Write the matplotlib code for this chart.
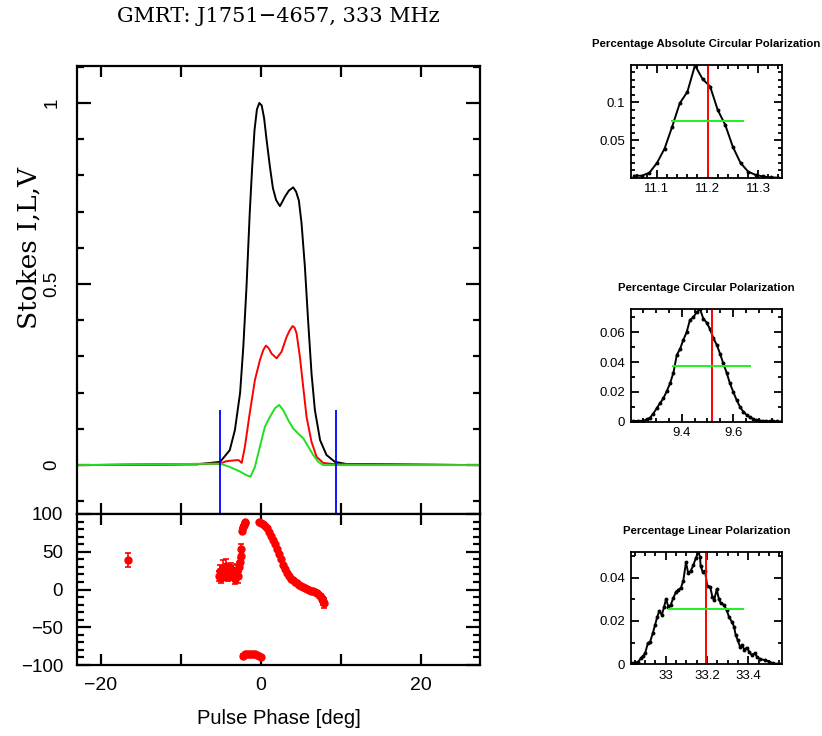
import numpy as np
import matplotlib
matplotlib.use("Agg")
import matplotlib.pyplot as plt
from matplotlib.ticker import MultipleLocator, FixedLocator, FixedFormatter, FuncFormatter

# -----------------------------
# profile data (Stokes I, L, V)
# -----------------------------
I_phase = [-23, -8, -5.1, -3.9, -3.25, -2.6, -2.2, -1.8, -1.4, -1.1, -0.8, -0.5, -0.2, 0.1, 0.4, 0.71,
           1.125, 1.5, 1.9, 2.375, 2.7, 3.0, 3.5, 4.04, 4.4, 4.75, 5.08, 5.5, 5.9, 6.33, 6.75, 7.4, 8.2,
           9.25, 10.7, 27.4]
I_val = [0, 0.002, 0.009, 0.041, 0.097, 0.200, 0.327, 0.493, 0.695, 0.82, 0.925, 0.982, 1.0, 0.993, 0.958, 0.898,
         0.824, 0.765, 0.732, 0.715, 0.728, 0.741, 0.758, 0.767, 0.755, 0.73, 0.668, 0.548, 0.40, 0.253, 0.152,
         0.069, 0.028, 0.009, 0.003, 0]

L_phase = [-23, -5.1, -4.3, -2.8, -2.4, -2.0, -1.4, -0.75, -0.125, 0.3, 0.625, 1.0, 1.33, 1.96, 2.58, 3.21,
           3.6, 3.96, 4.2, 4.46, 4.875, 5.29, 5.71, 6.33, 6.96, 7.8, 9.0, 27.4]
L_val = [0, 0.004, 0.011, 0.014, 0.006, 0.051, 0.143, 0.235, 0.29, 0.318, 0.330, 0.322, 0.308, 0.295, 0.313, 0.354,
         0.372, 0.384, 0.380, 0.364, 0.299, 0.216, 0.133, 0.064, 0.023, 0.006, 0.003, 0]

V_phase = [-23, -5.1, -3.9, -2.6, -1.8, -1.3, -0.75, -0.125, 0.5, 1.125, 1.75, 2.29, 2.79, 3.42,
           4.04, 4.67, 5.29, 5.92, 6.54, 7.17, 7.8, 27.4]
V_val = [0, 0.004, -0.005, -0.018, -0.028, -0.032, -0.005, 0.051, 0.106, 0.133, 0.157, 0.166, 0.152, 0.124,
         0.101, 0.087, 0.074, 0.051, 0.028, 0.009, 0, 0]

# on-pulse window markers
win_edges = [-5.1, 9.35]

# -----------------------------
# polarization angle data
# -----------------------------
pa_x = [-16.6,
        -5.3, -5.15, -5.0, -4.85, -4.7, -4.55, -4.4, -4.25, -4.1, -3.95, -3.8, -3.65, -3.5, -3.35, -3.2, -3.05, -2.9,
        -2.75, -2.65, -2.55, -2.48,
        -2.35, -2.25, -2.15, -2.05, -1.95,
        -2.2, -1.95, -1.7, -1.45, -1.2, -0.95, -0.7, -0.45, -0.2, 0.0,
        -0.2, 0.05, 0.3, 0.55, 0.8, 1.05, 1.3, 1.55, 1.8, 2.05, 2.3, 2.55, 2.8, 3.05, 3.3, 3.55, 3.8, 4.05,
        4.3, 4.55, 4.8, 5.05, 5.3, 5.55, 5.8, 6.05, 6.3, 6.55, 6.8, 7.05, 7.3, 7.5, 7.65, 7.8, 7.9]
pa_y = [38.7,
        18, 24, 15, 22, 28, 20, 31, 25, 17, 23, 27, 19, 24, 21, 14, 26, 18,
        30, 36, 45, 53,
        78, 83, 86, 88, 89,
        -88, -86, -85, -85, -85, -86, -86, -87, -88, -89,
        89.5, 88.5, 86.5, 84, 81, 76.5, 71.5, 66, 60, 53, 46.5, 40, 33, 27, 22, 18, 14.5, 12,
        10, 8, 6, 4.5, 3, 1.5, 0.5, -0.5, -1.5, -2.2, -3, -4.5, -7, -9.5, -12, -15, -18]
pa_err = [9,
          7, 8, 6, 9, 11, 7, 10, 8, 6, 9, 8, 7, 9, 6, 7, 8, 10,
          7, 6, 6, 7,
          3, 3, 2, 2, 2,
          2, 2, 1, 1, 1, 1, 1, 1, 1, 1,
          1, 1, 1, 1, 1, 1, 1, 1, 1, 1, 1, 1, 1, 1, 1, 1, 1, 1,
          1, 1, 1, 1, 1, 1, 1, 1, 1, 1, 1, 2, 2, 3, 4, 5, 7]

# -----------------------------
# distributions (right panels)
# -----------------------------
ac_x = [11.055, 11.07, 11.085, 11.10, 11.115, 11.13, 11.145, 11.16, 11.175, 11.19,
        11.205, 11.22, 11.235, 11.25, 11.265, 11.28, 11.295, 11.31, 11.325, 11.34]
ac_y = [0.003, 0.003, 0.007, 0.020, 0.039, 0.068, 0.099, 0.114, 0.149, 0.131,
        0.121, 0.090, 0.070, 0.041, 0.020, 0.0085, 0.004, 0.002, 0.0008, 0.0005]
ac_mark = 11.2
ac_fwhm = [11.128, 11.272, 0.0748]

cp_x = [9.212, 9.232, 9.251, 9.264, 9.277, 9.290, 9.303, 9.316, 9.329, 9.342, 9.355, 9.368, 9.381,
        9.394, 9.406, 9.419, 9.432, 9.445, 9.458, 9.471, 9.484, 9.497, 9.510, 9.523, 9.536, 9.549,
        9.561, 9.574, 9.587, 9.600, 9.613, 9.626, 9.639, 9.652, 9.665, 9.678, 9.690, 9.703, 9.716,
        9.729, 9.742, 9.755, 9.768, 9.781]
cp_y = [0.0005, 0.0005, 0.0007, 0.0015, 0.0027, 0.0055, 0.0090, 0.0125, 0.0157, 0.0205, 0.0258, 0.0330, 0.0448,
        0.0490, 0.0548, 0.0600, 0.0683, 0.0700, 0.0735, 0.0756, 0.0690, 0.0665, 0.0620, 0.0560, 0.0515, 0.0455,
        0.0392, 0.0330, 0.0258, 0.0200, 0.0146, 0.0100, 0.0067, 0.0045, 0.0029, 0.0018, 0.0011, 0.0007, 0.0005,
        0.0004, 0.0003, 0.0002, 0.0002, 0.0001]
cp_mark = 9.516
cp_fwhm = [9.361, 9.669, 0.0376]

lp_x = [32.835, 32.851, 32.867, 32.879, 32.892, 32.900, 32.913, 32.924, 32.937, 32.948, 32.959, 32.969,
        32.981, 32.992, 33.001, 33.013, 33.024, 33.037, 33.050, 33.061, 33.074, 33.085, 33.098, 33.109,
        33.121, 33.134, 33.145, 33.158, 33.166, 33.169, 33.179, 33.190, 33.201, 33.215, 33.226, 33.235,
        33.247, 33.258, 33.266, 33.282, 33.295, 33.307, 33.320, 33.331, 33.339, 33.349, 33.360, 33.371,
        33.381, 33.392, 33.405, 33.416, 33.432, 33.444, 33.457, 33.481, 33.502, 33.518, 33.538, 33.554]
lp_y = [0.0005, 0.0007, 0.0012, 0.0028, 0.0040, 0.0051, 0.0097, 0.0104, 0.0143, 0.0181, 0.0220, 0.0246,
        0.0228, 0.0266, 0.0300, 0.0266, 0.0274, 0.0307, 0.0335, 0.0343, 0.0354, 0.0386, 0.0471, 0.0420,
        0.0431, 0.0458, 0.0489, 0.0517, 0.0497, 0.0454, 0.0427, 0.0431, 0.0363, 0.0358, 0.0312, 0.0297,
        0.0346, 0.0300, 0.0282, 0.0274, 0.0251, 0.0217, 0.0197, 0.0174, 0.0135, 0.0112, 0.0081, 0.0089,
        0.0066, 0.0077, 0.0058, 0.0043, 0.0051, 0.0032, 0.0023, 0.0020, 0.0012, 0.0005, 0.0002, 0.0]
lp_mark = 33.196
lp_fwhm = [33.013, 33.381, 0.0257]

# -----------------------------
# figure
# -----------------------------
W, H = 822, 736
fig = plt.figure(figsize=(W / 100, H / 100), dpi=100)
sans = "Liberation Sans"
serif = "DejaVu Serif"
short = FuncFormatter(lambda v, p: ("%g" % round(v, 6)).replace("-", "\u2212"))


def box(l, t, r, b):
    return [l / W, 1 - b / H, (r - l) / W, (b - t) / H]


def frame(ax, lw=1.6):
    for s in ax.spines.values():
        s.set_linewidth(lw)
    ax.tick_params(which="both", direction="in", top=True, right=True, width=lw)


ax1 = fig.add_axes(box(77, 66, 480, 514))
ax2 = fig.add_axes(box(77, 514, 480, 665), sharex=ax1)

ax1.plot(I_phase, I_val, color="black", lw=1.4)
ax1.plot(L_phase, L_val, color="red", lw=1.4)
ax1.plot(V_phase, V_val, color="#22dd22", lw=1.4)
ax1.vlines(win_edges, -0.135, 0.152, color="blue", lw=1.3)
ax1.set_xlim(-23, 27.4)
ax1.set_ylim(-0.135, 1.102)
frame(ax1)
ax1.yaxis.set_major_locator(FixedLocator([0, 0.5, 1]))
ax1.yaxis.set_major_formatter(FixedFormatter(["0", "0.5", "1"]))
ax1.yaxis.set_minor_locator(MultipleLocator(0.1))
ax1.xaxis.set_major_locator(MultipleLocator(10))
ax1.tick_params(axis="y", which="major", length=10, pad=12, labelsize=13.5)
ax1.tick_params(axis="y", which="minor", length=5)
ax1.tick_params(axis="x", which="major", length=8, labelbottom=False)
for t in ax1.get_yticklabels():
    t.set_rotation(90)
    t.set_va("center")
    t.set_family(sans)

ax2.errorbar(pa_x, pa_y, yerr=pa_err, fmt="o", color="red", ms=5, capsize=2.5, elinewidth=1.2, capthick=1.2)
ax2.set_ylim(-100, 100)
frame(ax2)
ax2.yaxis.set_major_locator(MultipleLocator(50))
ax2.yaxis.set_minor_locator(MultipleLocator(10))
ax2.yaxis.set_major_formatter(short)
ax2.xaxis.set_major_locator(FixedLocator([-20, -10, 0, 10, 20]))
ax2.xaxis.set_major_formatter(FixedFormatter(["\u221220", "", "0", "", "20"]))
ax2.tick_params(axis="y", which="major", length=10, pad=10, labelsize=13.5)
ax2.tick_params(axis="y", which="minor", length=5)
ax2.tick_params(axis="x", which="major", length=8, pad=9, labelsize=14, labelbottom=True)
for t in ax2.get_yticklabels() + ax2.get_xticklabels():
    t.set_family(sans)

fig.text(278.5 / W, 1 - 16 / H, "GMRT: J1751\u22124657, 333 MHz", family=serif, fontsize=15,
         ha="center", va="center")
fig.text(29 / W, 1 - 248 / H, "Stokes I,L,V", family=serif, fontsize=19, rotation=90,
         ha="center", va="center")
fig.text(278.5 / W, 1 - 718 / H, "Pulse Phase [deg]", family=sans, fontsize=14.5,
         ha="center", va="center")


# right-hand distribution panels
def dist_panel(rect, x, y, mark, fwhm, xlim, ylim, xt, xminor, ymajor, yminor, title):
    ax = fig.add_axes(rect)
    ax.plot(x, y, color="black", lw=1.4, marker="o", ms=1.8)
    ax.axvline(mark, color="red", lw=1.4)
    ax.hlines(fwhm[2], fwhm[0], fwhm[1], color="#22ee22", lw=1.4)
    ax.set_xlim(*xlim)
    ax.set_ylim(*ylim)
    frame(ax, 1.3)
    ax.xaxis.set_major_locator(FixedLocator(xt))
    ax.xaxis.set_minor_locator(MultipleLocator(xminor))
    ax.yaxis.set_major_locator(MultipleLocator(ymajor))
    ax.yaxis.set_minor_locator(MultipleLocator(yminor))
    ax.xaxis.set_major_formatter(short)
    ax.yaxis.set_major_formatter(short)
    ax.tick_params(which="major", length=6, labelsize=9.5, pad=4)
    ax.tick_params(which="minor", length=3)
    for t in ax.get_xticklabels() + ax.get_yticklabels():
        t.set_family(sans)
    ax.set_title(title, family=sans, fontsize=8.2, fontweight="bold", pad=13)
    return ax


dist_panel(box(630.7, 65, 782, 177.7), ac_x, ac_y, ac_mark, ac_fwhm, (11.048, 11.347), (0.0004, 0.1495),
           [11.1, 11.2, 11.3], 0.02, 0.05, 0.01, "Percentage Absolute Circular Polarization")
dist_panel(box(630.7, 309, 781.7, 421.7), cp_x, cp_y, cp_mark, cp_fwhm, (9.202, 9.788), (0, 0.0756),
           [9.4, 9.6], 0.05, 0.02, 0.01, "Percentage Circular Polarization")
dist_panel(box(630.7, 552.3, 782.3, 664.3), lp_x, lp_y, lp_mark, lp_fwhm, (32.83, 33.565), (0, 0.0517),
           [33, 33.2, 33.4], 0.05, 0.02, 0.01, "Percentage Linear Polarization")

fig.savefig("out.png", dpi=100)
